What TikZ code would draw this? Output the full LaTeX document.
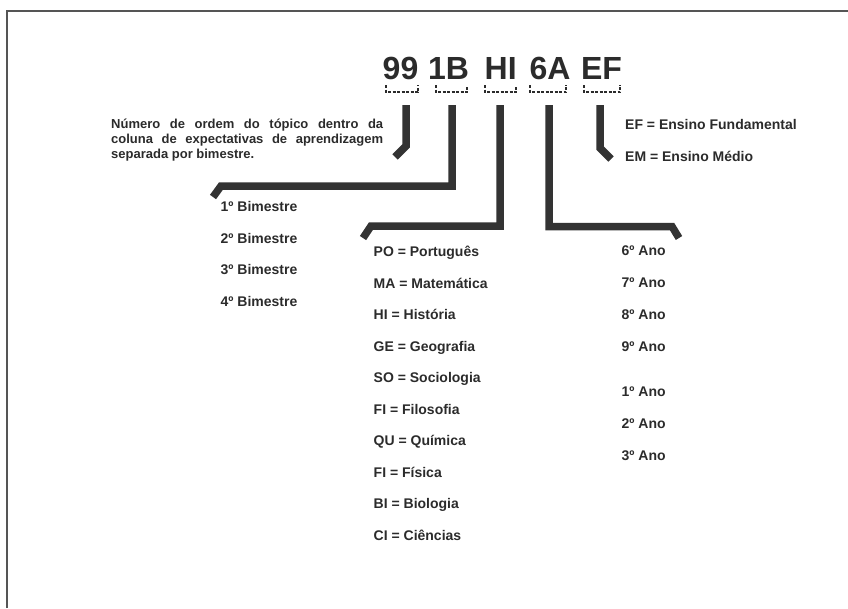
\documentclass[tikz,border=0pt]{standalone}
\usepackage{fontspec}
\setmainfont{Liberation Sans}
\begin{document}
\begin{tikzpicture}[x=1pt,y=-1pt,
  txt/.style={anchor=base west,inner sep=0pt,text=txtc,font=\fontsize{14}{16}\selectfont\bfseries},
  para/.style={anchor=base west,inner sep=0pt,text=txtc,font=\fontsize{13}{15}\selectfont\bfseries},
  big/.style={anchor=base,inner sep=0pt,text=txtc,font=\fontsize{32}{36}\selectfont\bfseries},
  bar/.style={draw=barc,line width=7.5pt,line join=miter},
  brk/.style={draw=txtc,line width=1.2pt,dash pattern=on 3pt off 1.5pt}]
\definecolor{txtc}{HTML}{2B2B2B}
\definecolor{barc}{HTML}{333333}
\definecolor{framec}{HTML}{555555}
\useasboundingbox (0,0) rectangle (848,608);
% frame
\draw[framec,line width=2pt] (7,608) -- (7,11) -- (848,11);
% title
\node[big] (t99) at (400.5,79) {99};
\node[big] (t1B) at (448.6,79) {1B};
\node[big] (tHI) at (500.7,79) {HI};
\node[big] (t6A) at (550,79) {6A};
\node[big] (tEF) at (601.5,79) {EF};
% brackets
\draw[brk] (386,85) -- (386,92) -- (418,92) -- (418,85);
\draw[brk] (436,85) -- (436,92) -- (467,92) -- (467,85);
\draw[brk] (485,85) -- (485,92) -- (516,92) -- (516,85);
\draw[brk] (530,85) -- (530,92) -- (566,92) -- (566,85);
\draw[brk] (584,85) -- (584,92) -- (620,92) -- (620,85);
% bar anchors
\coordinate (s1) at (406,105);
\coordinate (s2) at (452,105);
\coordinate (s3) at (500,105);
\coordinate (s4) at (549,105);
\coordinate (s5) at (600,105);
\coordinate (e1) at (395,157);
\coordinate (e2) at (213,197);
\coordinate (e3) at (363,238);
\coordinate (e4) at (679,238);
\coordinate (e5) at (611,159);
\draw[bar] (s1) -- (406,146) -- (e1);
\draw[bar] (s2) -- (452,186) -- (221,186) -- (e2);
\draw[bar] (s3) -- (500,226) -- (371,226) -- (e3);
\draw[bar] (s4) -- (549,226.5) -- (672,226.5) -- (e4);
\draw[bar] (s5) -- (600,148) -- (e5);
% paragraph
\node[para] (p1) at (111,128) {\makebox[272pt][s]{Número de ordem do tópico dentro da}};
\node[para] (p2) at (111,143) {\makebox[272pt][s]{coluna de expectativas de aprendizagem}};
\node[para] (p3) at (111,158) {separada por bimestre.};
% EF EM
\node[txt] (ef) at (625,129) {EF = Ensino Fundamental};
\node[txt] (em) at (625,161) {EM = Ensino Médio};
% bimestres
\node[txt] (b1) at (220.5,211.5) {1º Bimestre};
\node[txt] (b2) at (220.5,243) {2º Bimestre};
\node[txt] (b3) at (220.5,274.5) {3º Bimestre};
\node[txt] (b4) at (220.5,306) {4º Bimestre};
% subjects
\node[txt] (m1) at (373.5,256.5) {PO = Português};
\node[txt] (m2) at (373.5,288) {MA = Matemática};
\node[txt] (m3) at (373.5,319.5) {HI = História};
\node[txt] (m4) at (373.5,351) {GE = Geografia};
\node[txt] (m5) at (373.5,382.5) {SO = Sociologia};
\node[txt] (m6) at (373.5,414) {FI = Filosofia};
\node[txt] (m7) at (373.5,445.5) {QU = Química};
\node[txt] (m8) at (373.5,477) {FI = Física};
\node[txt] (m9) at (373.5,508.5) {BI = Biologia};
\node[txt] (m10) at (373.5,540) {CI = Ciências};
% anos
\node[txt] (a6) at (621.5,255.5) {6º Ano};
\node[txt] (a7) at (621.5,287.5) {7º Ano};
\node[txt] (a8) at (621.5,319.5) {8º Ano};
\node[txt] (a9) at (621.5,351.5) {9º Ano};
\node[txt] (a1) at (621.5,396.5) {1º Ano};
\node[txt] (a2) at (621.5,428.5) {2º Ano};
\node[txt] (a3) at (621.5,460.5) {3º Ano};
\end{tikzpicture}
\end{document}
